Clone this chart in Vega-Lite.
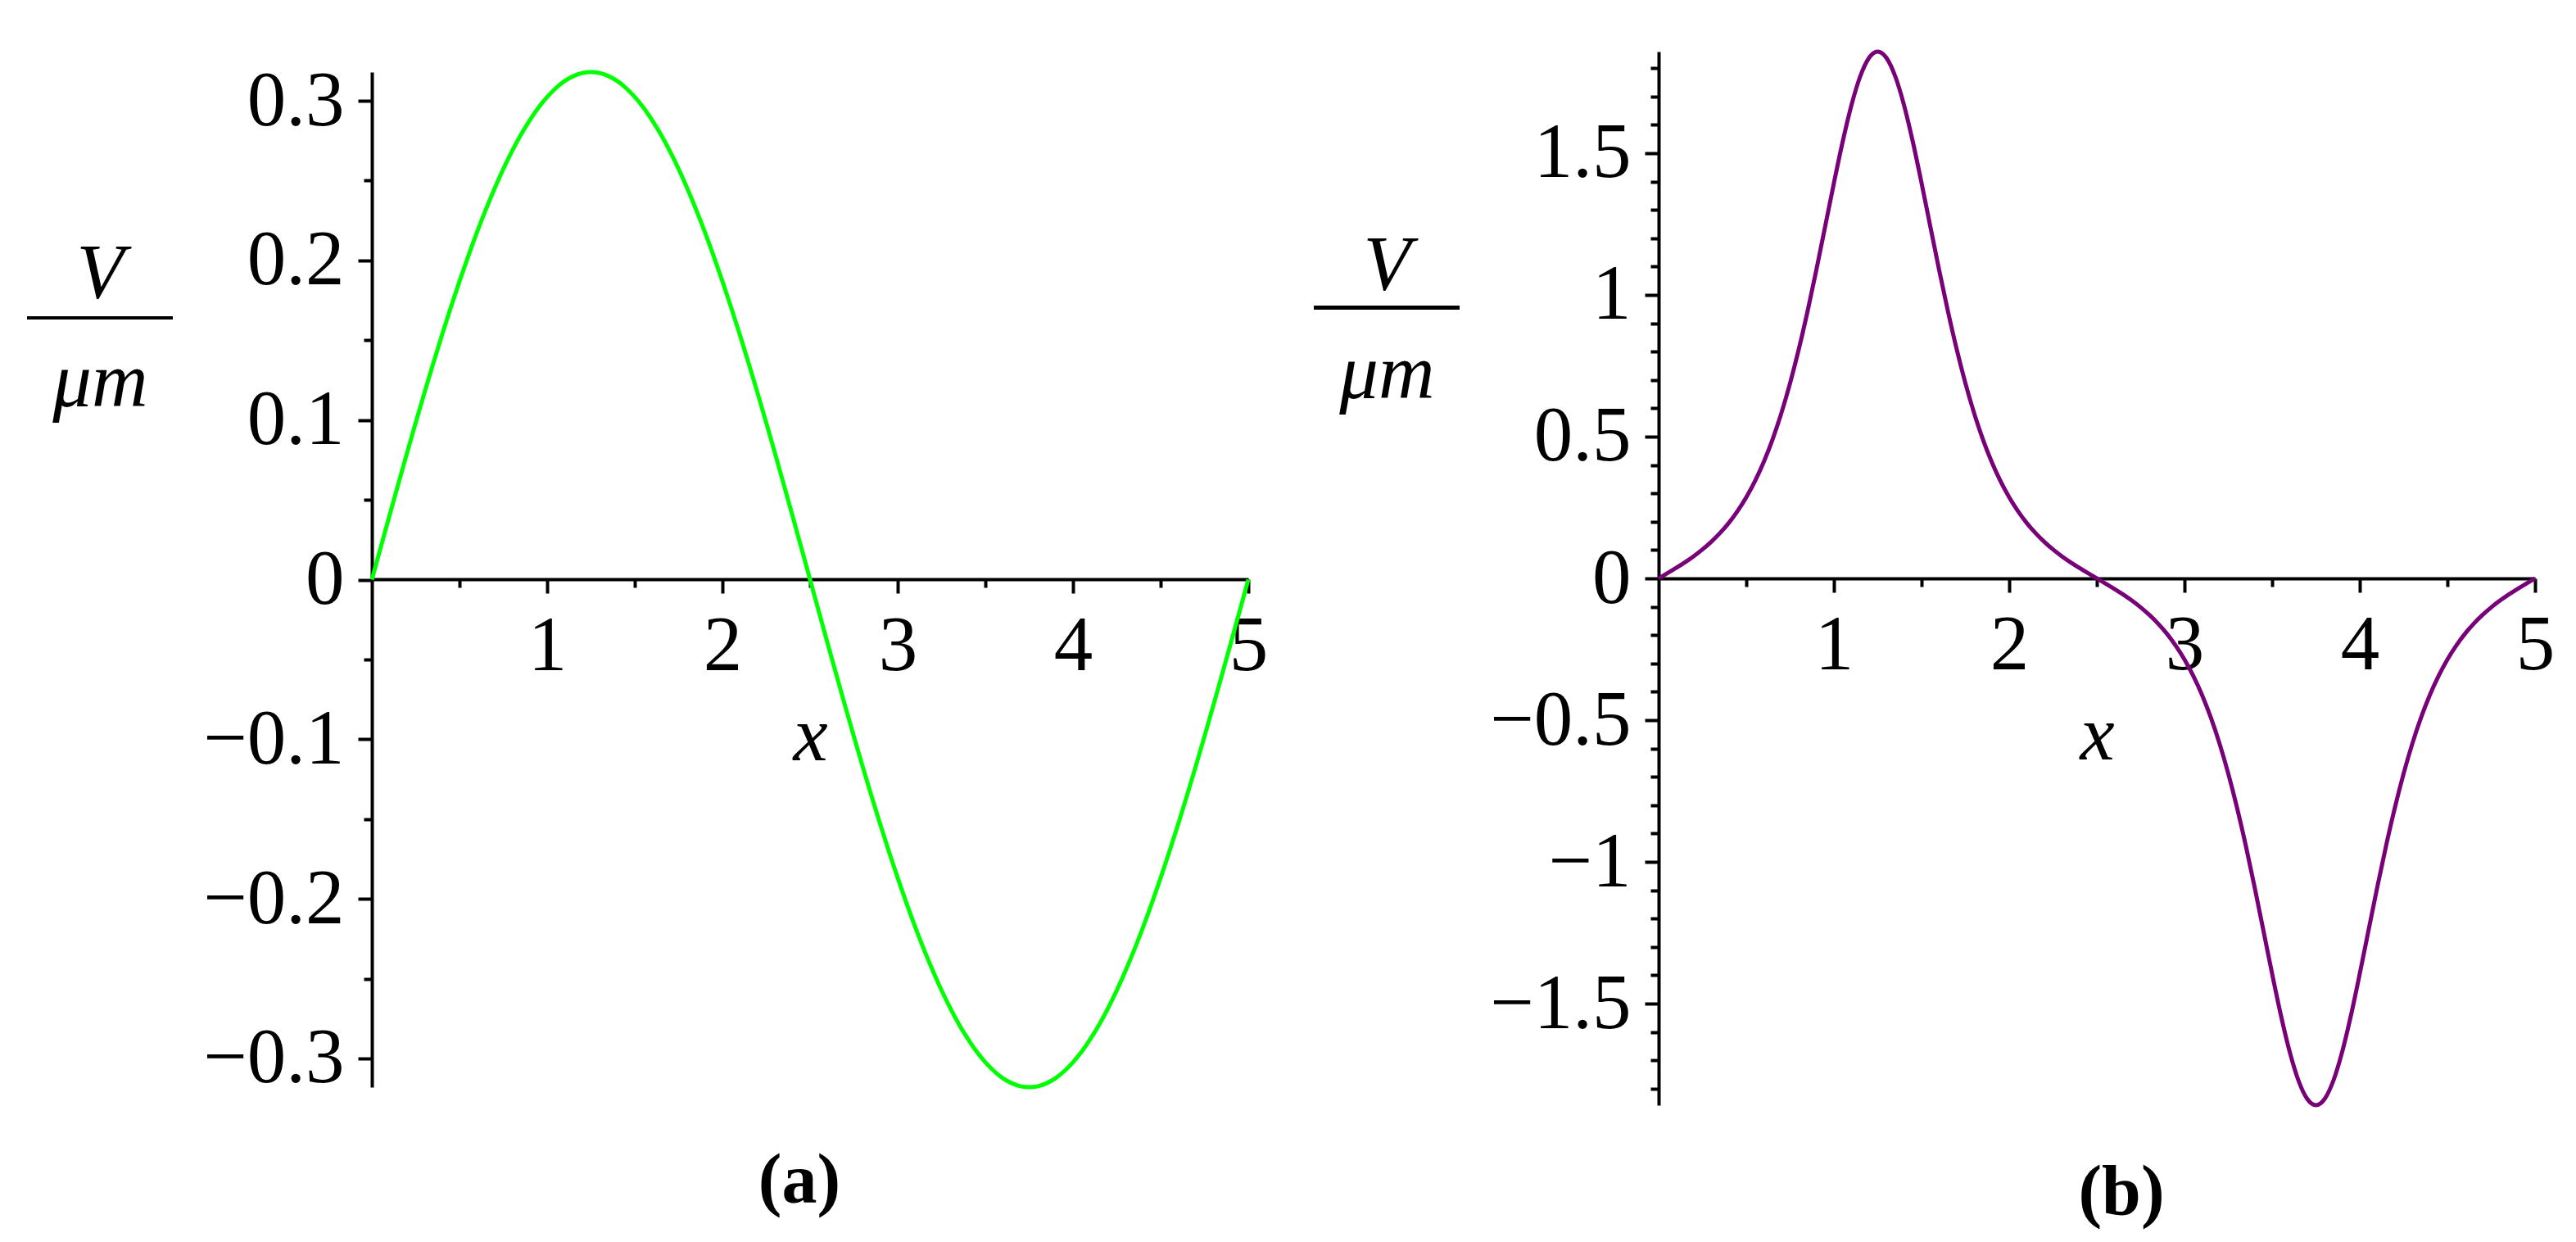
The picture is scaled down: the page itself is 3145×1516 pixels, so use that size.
{
  "$schema": "https://vega.github.io/schema/vega-lite/v6.json",
  "background": "white",
  "padding": {"left": 31, "top": 53, "right": 20, "bottom": 20},
  "bounds": "flush",
  "spacing": 501,
  "config": {
    "view": {"stroke": null},
    "axis": {
      "labelFont": "Liberation Serif", "labelFontSize": 95, "labelColor": "black",
      "titleFont": "Liberation Serif", "titleFontSize": 95, "titleFontStyle": "italic", "titleFontWeight": "normal", "titleColor": "black",
      "domainColor": "black", "domainWidth": 4, "tickColor": "black", "tickWidth": 4,
      "grid": false, "labelFlush": false, "labelOverlap": false, "labelBound": false
    }
  },
  "datasets": {
    "a": [{"x":0,"V":0},{"x":0.05,"V":0.02},{"x":0.1,"V":0.0399},{"x":0.15,"V":0.0596},{"x":0.2,"V":0.0791},{"x":0.25,"V":0.0983},{"x":0.3,"V":0.1171},{"x":0.35,"V":0.1354},{"x":0.4,"V":0.1532},{"x":0.45,"V":0.1704},{"x":0.5,"V":0.1869},{"x":0.55,"V":0.2027},{"x":0.6,"V":0.2177},{"x":0.65,"V":0.2318},{"x":0.7,"V":0.245},{"x":0.75,"V":0.2573},{"x":0.8,"V":0.2685},{"x":0.85,"V":0.2787},{"x":0.9,"V":0.2877},{"x":0.95,"V":0.2957},{"x":1,"V":0.3024},{"x":1.05,"V":0.308},{"x":1.1,"V":0.3124},{"x":1.15,"V":0.3155},{"x":1.2,"V":0.3174},{"x":1.25,"V":0.318},{"x":1.3,"V":0.3174},{"x":1.35,"V":0.3155},{"x":1.4,"V":0.3124},{"x":1.45,"V":0.308},{"x":1.5,"V":0.3024},{"x":1.55,"V":0.2957},{"x":1.6,"V":0.2877},{"x":1.65,"V":0.2787},{"x":1.7,"V":0.2685},{"x":1.75,"V":0.2573},{"x":1.8,"V":0.245},{"x":1.85,"V":0.2318},{"x":1.9,"V":0.2177},{"x":1.95,"V":0.2027},{"x":2,"V":0.1869},{"x":2.05,"V":0.1704},{"x":2.1,"V":0.1532},{"x":2.15,"V":0.1354},{"x":2.2,"V":0.1171},{"x":2.25,"V":0.0983},{"x":2.3,"V":0.0791},{"x":2.35,"V":0.0596},{"x":2.4,"V":0.0399},{"x":2.45,"V":0.02},{"x":2.5,"V":0},{"x":2.55,"V":-0.02},{"x":2.6,"V":-0.0399},{"x":2.65,"V":-0.0596},{"x":2.7,"V":-0.0791},{"x":2.75,"V":-0.0983},{"x":2.8,"V":-0.1171},{"x":2.85,"V":-0.1354},{"x":2.9,"V":-0.1532},{"x":2.95,"V":-0.1704},{"x":3,"V":-0.1869},{"x":3.05,"V":-0.2027},{"x":3.1,"V":-0.2177},{"x":3.15,"V":-0.2318},{"x":3.2,"V":-0.245},{"x":3.25,"V":-0.2573},{"x":3.3,"V":-0.2685},{"x":3.35,"V":-0.2787},{"x":3.4,"V":-0.2877},{"x":3.45,"V":-0.2957},{"x":3.5,"V":-0.3024},{"x":3.55,"V":-0.308},{"x":3.6,"V":-0.3124},{"x":3.65,"V":-0.3155},{"x":3.7,"V":-0.3174},{"x":3.75,"V":-0.318},{"x":3.8,"V":-0.3174},{"x":3.85,"V":-0.3155},{"x":3.9,"V":-0.3124},{"x":3.95,"V":-0.308},{"x":4,"V":-0.3024},{"x":4.05,"V":-0.2957},{"x":4.1,"V":-0.2877},{"x":4.15,"V":-0.2787},{"x":4.2,"V":-0.2685},{"x":4.25,"V":-0.2573},{"x":4.3,"V":-0.245},{"x":4.35,"V":-0.2318},{"x":4.4,"V":-0.2177},{"x":4.45,"V":-0.2027},{"x":4.5,"V":-0.1869},{"x":4.55,"V":-0.1704},{"x":4.6,"V":-0.1532},{"x":4.65,"V":-0.1354},{"x":4.7,"V":-0.1171},{"x":4.75,"V":-0.0983},{"x":4.8,"V":-0.0791},{"x":4.85,"V":-0.0596},{"x":4.9,"V":-0.0399},{"x":4.95,"V":-0.02},{"x":5,"V":0}],
    "b": [{"x":0,"V":0},{"x":0.05,"V":0.0182},{"x":0.1,"V":0.037},{"x":0.15,"V":0.0568},{"x":0.2,"V":0.0783},{"x":0.25,"V":0.1022},{"x":0.3,"V":0.1291},{"x":0.35,"V":0.1599},{"x":0.4,"V":0.1955},{"x":0.45,"V":0.2373},{"x":0.5,"V":0.2861},{"x":0.55,"V":0.3436},{"x":0.6,"V":0.4111},{"x":0.65,"V":0.4904},{"x":0.7,"V":0.5826},{"x":0.75,"V":0.6888},{"x":0.8,"V":0.8092},{"x":0.85,"V":0.9432},{"x":0.9,"V":1.0886},{"x":0.95,"V":1.2411},{"x":1,"V":1.3945},{"x":1.05,"V":1.5405},{"x":1.1,"V":1.6693},{"x":1.15,"V":1.7706},{"x":1.2,"V":1.8356},{"x":1.25,"V":1.858},{"x":1.3,"V":1.8356},{"x":1.35,"V":1.7706},{"x":1.4,"V":1.6693},{"x":1.45,"V":1.5405},{"x":1.5,"V":1.3945},{"x":1.55,"V":1.2411},{"x":1.6,"V":1.0886},{"x":1.65,"V":0.9432},{"x":1.7,"V":0.8092},{"x":1.75,"V":0.6888},{"x":1.8,"V":0.5826},{"x":1.85,"V":0.4904},{"x":1.9,"V":0.4111},{"x":1.95,"V":0.3436},{"x":2,"V":0.2861},{"x":2.05,"V":0.2373},{"x":2.1,"V":0.1955},{"x":2.15,"V":0.1599},{"x":2.2,"V":0.1291},{"x":2.25,"V":0.1022},{"x":2.3,"V":0.0783},{"x":2.35,"V":0.0568},{"x":2.4,"V":0.037},{"x":2.45,"V":0.0182},{"x":2.5,"V":0},{"x":2.55,"V":-0.0182},{"x":2.6,"V":-0.037},{"x":2.65,"V":-0.0568},{"x":2.7,"V":-0.0783},{"x":2.75,"V":-0.1022},{"x":2.8,"V":-0.1291},{"x":2.85,"V":-0.1599},{"x":2.9,"V":-0.1955},{"x":2.95,"V":-0.2373},{"x":3,"V":-0.2861},{"x":3.05,"V":-0.3436},{"x":3.1,"V":-0.4111},{"x":3.15,"V":-0.4904},{"x":3.2,"V":-0.5826},{"x":3.25,"V":-0.6888},{"x":3.3,"V":-0.8092},{"x":3.35,"V":-0.9432},{"x":3.4,"V":-1.0886},{"x":3.45,"V":-1.2411},{"x":3.5,"V":-1.3945},{"x":3.55,"V":-1.5405},{"x":3.6,"V":-1.6693},{"x":3.65,"V":-1.7706},{"x":3.7,"V":-1.8356},{"x":3.75,"V":-1.858},{"x":3.8,"V":-1.8356},{"x":3.85,"V":-1.7706},{"x":3.9,"V":-1.6693},{"x":3.95,"V":-1.5405},{"x":4,"V":-1.3945},{"x":4.05,"V":-1.2411},{"x":4.1,"V":-1.0886},{"x":4.15,"V":-0.9432},{"x":4.2,"V":-0.8092},{"x":4.25,"V":-0.6888},{"x":4.3,"V":-0.5826},{"x":4.35,"V":-0.4904},{"x":4.4,"V":-0.4111},{"x":4.45,"V":-0.3436},{"x":4.5,"V":-0.2861},{"x":4.55,"V":-0.2373},{"x":4.6,"V":-0.1955},{"x":4.65,"V":-0.1599},{"x":4.7,"V":-0.1291},{"x":4.75,"V":-0.1022},{"x":4.8,"V":-0.0783},{"x":4.85,"V":-0.0568},{"x":4.9,"V":-0.037},{"x":4.95,"V":-0.0182},{"x":5,"V":0}]
  },
  "hconcat": [
    {
      "width": 1070, "height": 1264,
      "data": {"name": "a"},
      "title": {"text": "(a)", "orient": "bottom", "frame": "group", "anchor": "middle", "dx": -13, "offset": 60, "font": "Liberation Serif", "fontSize": 86, "fontWeight": "bold", "color": "black"},
      "layer": [
        {
          "mark": {"type": "line", "color": "#00ff00", "strokeWidth": 5, "interpolate": "monotone"},
          "encoding": {
            "x": {"field": "x", "type": "quantitative", "scale": {"domain": [0, 5], "nice": false, "zero": false},
                  "axis": {"orient": "bottom", "offset": -620, "values": [1, 2, 3, 4, 5], "format": "~g", "tickSize": 17, "labelPadding": 18,
                           "title": "x", "titleX": 535, "titleY": 220, "titleBaseline": "alphabetic", "titleAlign": "center"}},
            "y": {"field": "V", "type": "quantitative", "scale": {"domain": [-0.318, 0.318], "nice": false, "zero": false, "range": [1264, 25]},
                  "axis": {"orient": "left", "values": [-0.3, -0.2, -0.1, 0, 0.1, 0.2, 0.3], "format": "~g", "tickSize": 17, "labelPadding": 17,
                           "title": ["V", "μm"], "titleAngle": 0, "titleX": -332, "titleY": 300, "titleAlign": "center", "titleBaseline": "alphabetic", "titleLineHeight": 132}}
          }
        },
        {
          "mark": {"type": "line", "strokeOpacity": 0},
          "encoding": {
            "x": {"field": "x", "type": "quantitative",
                  "axis": {"orient": "bottom", "offset": -620, "values": [0.5, 1.5, 2.5, 3.5, 4.5], "labels": false, "domain": false, "tickSize": 10, "title": null}},
            "y": {"field": "V", "type": "quantitative",
                  "axis": {"orient": "left", "values": [-0.25, -0.15, -0.05, 0.05, 0.15, 0.25], "labels": false, "domain": false, "tickSize": 10, "title": null}}
          }
        },
        {
          "mark": {"type": "rule", "color": "black", "strokeWidth": 4},
          "encoding": {
            "x": {"datum": -1.967, "type": "quantitative", "axis": null},
            "x2": {"datum": -1.136},
            "y": {"datum": 0.164, "type": "quantitative", "axis": null}
          }
        }
      ],
      "resolve": {"axis": {"x": "independent", "y": "independent"}}
    },
    {
      "width": 1070, "height": 1286,
      "data": {"name": "b"},
      "title": {"text": "(b)", "orient": "bottom", "frame": "group", "anchor": "middle", "dx": 30, "offset": 55, "font": "Liberation Serif", "fontSize": 86, "fontWeight": "bold", "color": "black"},
      "layer": [
        {
          "mark": {"type": "line", "color": "#780078", "strokeWidth": 5, "interpolate": "monotone"},
          "encoding": {
            "x": {"field": "x", "type": "quantitative", "scale": {"domain": [0, 5], "nice": false, "zero": false},
                  "axis": {"orient": "bottom", "offset": -643, "values": [1, 2, 3, 4, 5], "format": "~g", "tickSize": 17, "labelPadding": 18,
                           "title": "x", "titleX": 535, "titleY": 220, "titleBaseline": "alphabetic", "titleAlign": "center"}},
            "y": {"field": "V", "type": "quantitative", "scale": {"domain": [-1.858, 1.858], "nice": false, "zero": false},
                  "axis": {"orient": "left", "values": [-1.5, -1, -0.5, 0, 0.5, 1, 1.5], "format": "~g", "tickSize": 17, "labelPadding": 17,
                           "title": ["V", "μm"], "titleAngle": 0, "titleX": -332, "titleY": 290, "titleAlign": "center", "titleBaseline": "alphabetic", "titleLineHeight": 132}}
          }
        },
        {
          "mark": {"type": "line", "strokeOpacity": 0},
          "encoding": {
            "x": {"field": "x", "type": "quantitative",
                  "axis": {"orient": "bottom", "offset": -643, "values": [0.5, 1.5, 2.5, 3.5, 4.5], "labels": false, "domain": false, "tickSize": 10, "title": null}},
            "y": {"field": "V", "type": "quantitative",
                  "axis": {"orient": "left", "values": [-1.8, -1.7, -1.6, -1.4, -1.3, -1.2, -1.1, -0.9, -0.8, -0.7, -0.6, -0.4, -0.3, -0.2, -0.1, 0.1, 0.2, 0.3, 0.4, 0.6, 0.7, 0.8, 0.9, 1.1, 1.2, 1.3, 1.4, 1.6, 1.7, 1.8], "labels": false, "domain": false, "tickSize": 10, "title": null}}
          }
        },
        {
          "mark": {"type": "rule", "color": "black", "strokeWidth": 4},
          "encoding": {
            "x": {"datum": -1.967, "type": "quantitative", "axis": null},
            "x2": {"datum": -1.136},
            "y": {"datum": 0.954, "type": "quantitative", "axis": null}
          }
        }
      ],
      "resolve": {"axis": {"x": "independent", "y": "independent"}}
    }
  ]
}
